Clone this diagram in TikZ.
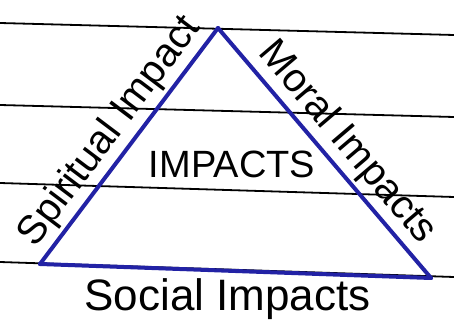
\documentclass[tikz,border=0pt]{standalone}
\usepackage{fontspec}
\setmainfont{Liberation Sans}
\usepackage{tikz}
\usetikzlibrary{calc}

\definecolor{penblue}{RGB}{34,34,165}

\begin{document}
\begin{tikzpicture}[x=1pt, y=-1pt,
    ruled/.style={line width=1.8pt, black},
    side/.style={line width=4pt, penblue, line cap=round, line join=round},
    hand/.style={font=\fontsize{40}{40}\selectfont, text=black, inner sep=3pt}]
    \useasboundingbox (0,0) rectangle (454,336);
    % Draw the ruled lines of the page (they slope a little)
    \foreach \yl/\yr in {23/35, 105/117, 183/197, 262/277}
      \draw[ruled] (0,\yl) -- (454,\yr);
    % Corners of the triangle
    \coordinate (apex) at (218,28);
    \coordinate (left) at (40,264);
    \coordinate (right) at (431,278);
    % Draw the three sides with their labels
    \draw[side] (left) -- node[hand, sloped, above, pos=0.5] {Spiritual Impact} (apex);
    \draw[side] (apex) -- node[hand, sloped, above, pos=0.52, font=\fontsize{40}{40}\selectfont] {Moral Impacts} (right);
    \draw[side] (left) -- node[hand, below, pos=0.48, inner sep=6pt, font=\fontsize{44}{44}\selectfont] {Social Impacts} (right);
    % Title in the middle
    \node[hand, font=\fontsize{38}{38}\selectfont] (title) at (232,164) {IMPACTS};
  \end{tikzpicture}
\end{document}
